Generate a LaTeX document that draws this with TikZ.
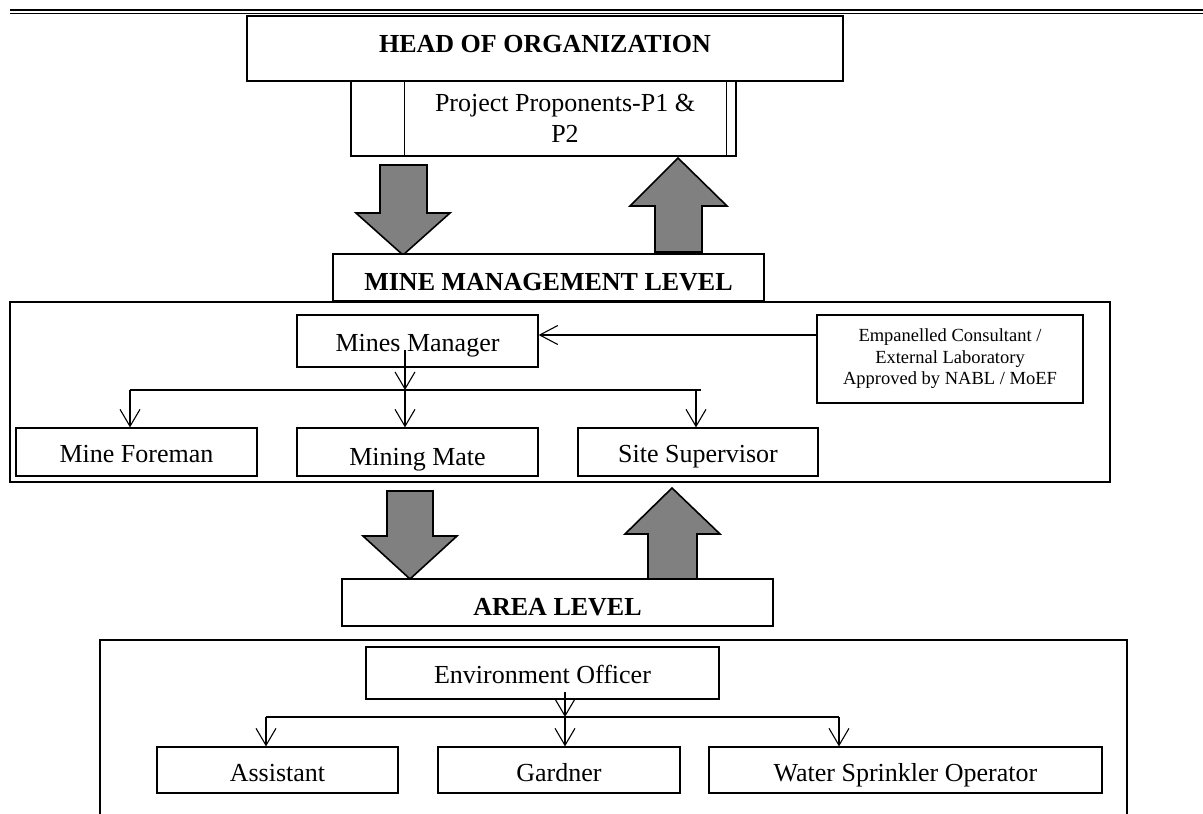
\documentclass[tikz,border=0pt]{standalone}
\usepackage{fontspec}
\setmainfont{Liberation Serif}
\usetikzlibrary{arrows.meta}
\begin{document}
\begin{tikzpicture}[x=1pt,y=-1pt,
  box/.style={draw=black, line width=1.2pt, inner sep=0pt, text height=21pt, text depth=0pt, font=\fontsize{26}{30}\selectfont},
  ebox/.style={draw=black, line width=1.2pt, inner sep=0pt, align=center, font=\fontsize{18.5}{21.5}\selectfont},
  lvl/.style={draw=black, line width=1.2pt, fill=white, inner sep=0pt, text depth=0pt, font=\fontsize{26}{30}\selectfont\bfseries},
  bigbox/.style={draw=black, line width=2.4pt},
  thinline/.style={draw=black, line width=1pt},
  conn/.style={line width=1.1pt, draw=black},
  vtip/.style={conn, -{Straight Barb[length=17pt,width=20pt]}},
  htip/.style={conn, -{Straight Barb[length=18pt,width=19pt]}},
  fat/.style={fill=black!50, draw=black, line width=1.6pt, line join=miter},
]
\useasboundingbox (0,0) rectangle (1203,814);

% header rule
\draw[line width=2pt] (10,10) -- (1203,10);
\draw[line width=1pt] (10,13.5) -- (1203,13.5);

% top
\node[lvl, minimum width=596pt, minimum height=65pt, text height=7pt] (head) at (545,48.5) {HEAD OF ORGANIZATION};
\node[inner sep=0pt, minimum width=385pt, minimum height=75pt] (pp) at (543.5,118.5) {};
\draw[bigbox] (pp.north west) -- (pp.south west) -- (pp.south east) -- (pp.north east);
\draw[thinline] (404,81) -- (404,156);
\draw[thinline] (726,81) -- (726,156);
\node[inner sep=0pt, align=center, font=\fontsize{26}{31}\selectfont] (pptext) at (565,118) {Project Proponents-P1 \&\\P2};

% fat arrows top
\draw[fat] (380,165) -- (427,165) -- (427,213) -- (450,213) -- (403,255) -- (356,213) -- (380,213) -- cycle;
\draw[fat] (655,252) -- (702,252) -- (702,206) -- (727,206) -- (678,158) -- (630,206) -- (655,206) -- cycle;

% mine management level
\node[lvl, minimum width=431pt, minimum height=47pt, text height=25pt] (mml) at (548.5,277.5) {MINE MANAGEMENT LEVEL};
\node[bigbox, minimum width=1100pt, minimum height=180pt, inner sep=0pt] (mmzone) at (560,392) {};

\node[box, minimum width=241pt, minimum height=52pt] (mm) at (417.5,341) {Mines Manager};
\node[ebox, minimum width=266pt, minimum height=88pt] (emp) at (950,359) {Empanelled Consultant /\\External Laboratory\\Approved by NABL / MoEF};
\node[box, minimum width=241pt, minimum height=48pt] (mf) at (136.5,452) {Mine Foreman};
\node[box, minimum width=241pt, minimum height=48pt, text height=27pt] (mate) at (417.5,452) {Mining Mate};
\node[box, minimum width=240pt, minimum height=48pt] (ss) at (698,452) {Site Supervisor};

\coordinate (mmsrc) at (405,350);
\coordinate (mmj) at (405,390);
\coordinate (mmL) at (130,390);
\coordinate (mmR) at (701,390);
\coordinate (ssj) at (696,390);
\coordinate (empa) at (817,335);
\draw[conn] (mmL) -- (mmR);
\draw[vtip] (mmsrc) -- (mmj);
\draw[vtip] (mmj) -- (mmj |- mate.north);
\draw[vtip] (mmL) -- (mmL |- mf.north);
\draw[vtip] (ssj) -- (ssj |- ss.north);
\draw[htip] (empa) -- (mm.east |- empa);

% fat arrows lower
\draw[fat] (387,491) -- (433,491) -- (433,536) -- (457,536) -- (410,579) -- (363,536) -- (387,536) -- cycle;
\draw[fat] (648,581) -- (697,581) -- (697,534) -- (720,534) -- (672,488) -- (625,534) -- (648,534) -- cycle;

% area level
\node[lvl, minimum width=431pt, minimum height=47pt, text height=25pt] (al) at (557.5,602.5) {AREA LEVEL};
\draw[bigbox] (100,830) -- (100,640) -- (1127,640) -- (1127,830);

\node[box, minimum width=353pt, minimum height=52pt] (eo) at (542.5,673) {Environment Officer};
\node[box, minimum width=241pt, minimum height=46pt, text height=22pt] (asst) at (277.5,770) {Assistant};
\node[box, minimum width=242pt, minimum height=46pt, text height=22pt] (gard) at (559,770) {Gardner};
\node[box, minimum width=393pt, minimum height=46pt, text height=22pt] (water) at (905.5,770) {Water Sprinkler Operator};

\coordinate (eosrc) at (565,692);
\coordinate (eoj) at (565,717);
\coordinate (eoL) at (266,717);
\coordinate (eoR) at (839,717);
\draw[conn] (eoL) -- (eoR);
\draw[vtip] (eosrc) -- (eoj);
\draw[vtip] (eoj) -- (eoj |- gard.north);
\draw[vtip] (eoL) -- (eoL |- asst.north);
\draw[vtip] (eoR) -- (eoR |- water.north);
\end{tikzpicture}
\end{document}
